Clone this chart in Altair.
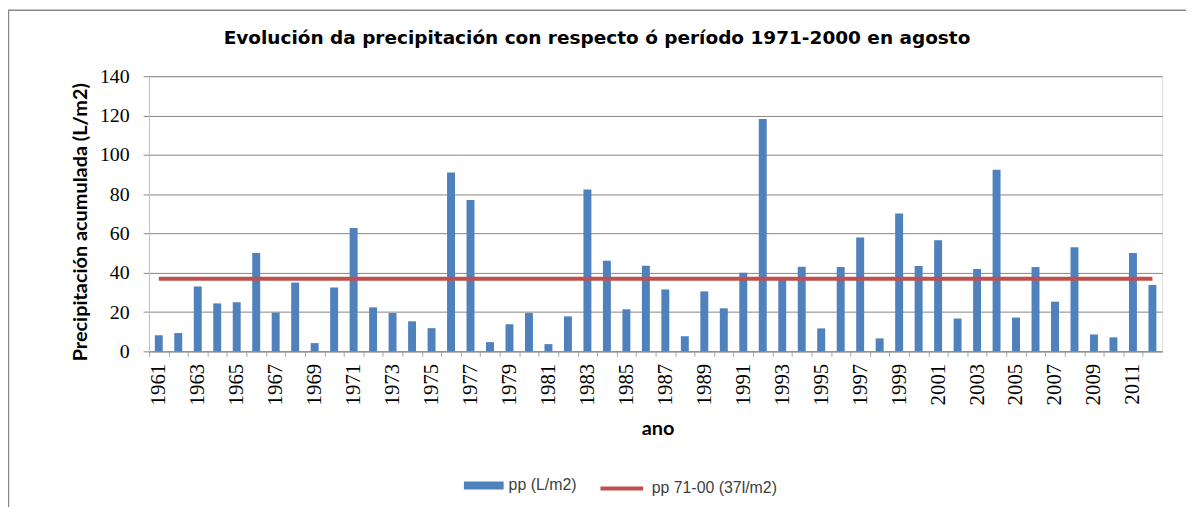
import altair as alt
import pandas as pd

years = [str(y) for y in range(1961, 2013)]
pp = [8.2, 9.3, 33.0, 24.4, 25.0, 50.0, 19.7, 35.0, 4.2, 32.5,
      62.8, 22.4, 19.5, 15.3, 11.8, 91.0, 77.0, 4.7, 13.8, 19.5,
      3.7, 17.8, 82.4, 46.1, 21.4, 43.6, 31.5, 7.7, 30.5, 21.9,
      40.0, 118.3, 36.5, 43.1, 11.7, 42.9, 58.0, 6.6, 70.2, 43.4,
      56.6, 16.7, 41.9, 92.4, 17.2, 42.9, 25.3, 53.0, 8.6, 7.1,
      50.0, 33.8]
y_ticks = [0, 20, 40, 60, 80, 100, 120, 140]
ref_value = 37
series_names = ["pp (L/m2)", "pp 71-00 (37l/m2)"]
title_text = "Evolución da precipitación con respecto ó período 1971-2000  en agosto"
y_title = "Precipitación acumulada (L/m2)"
x_title = "ano"

bars_df = pd.DataFrame({"ano": years, "pp": pp, "serie": series_names[0]})
line_df = pd.DataFrame({"ano": years, "pp": [ref_value] * len(years), "serie": series_names[1]})

W, H = 1020, 277
n = len(years)
step = W / n

xscale = alt.Scale(paddingInner=0.59, paddingOuter=0.295)
yscale = alt.Scale(domain=[0, 140], nice=False)

x_axis = alt.Axis(
    labelAngle=-90, labelExpr="toNumber(datum.value) % 2 == 1 ? datum.label : ''",
    tickOffset=-step / 2, labelOffset=step / 2,
    titleX=W / 2 + 2, titleY=78, titleBaseline="middle",
)
y_axis = alt.Axis(
    values=y_ticks,
    titleX=-69, titleY=H / 2 + 8, titleAngle=-90, titleBaseline="middle",
    titleAlign="center",
)

bars = alt.Chart(bars_df).mark_bar(size=8).encode(
    x=alt.X("ano:O", scale=xscale, sort=years, title=x_title, axis=x_axis),
    y=alt.Y("pp:Q", scale=yscale, title=y_title, axis=y_axis),
    fill=alt.Fill(
        "serie:N",
        scale=alt.Scale(domain=[series_names[0]], range=["#4F81BD"]),
        legend=alt.Legend(
            title=None, orient="none", legendX=317, legendY=392,
            symbolType="M-1,-0.2L1,-0.2L1,0.2L-1,0.2Z", symbolSize=1600,
            symbolStrokeWidth=0, labelFont="Liberation Sans", labelFontSize=16,
            labelColor="#404040", labelOffset=5,
        ),
    ),
)

line = alt.Chart(line_df).mark_line(strokeWidth=4).encode(
    x=alt.X("ano:O", sort=years, scale=xscale, title=x_title, axis=x_axis),
    y=alt.Y("pp:Q", scale=yscale, title=y_title, axis=y_axis),
    stroke=alt.Stroke(
        "serie:N",
        scale=alt.Scale(domain=[series_names[1]], range=["#C0504D"]),
        legend=alt.Legend(
            title=None, orient="none", legendX=452, legendY=391,
            symbolType="stroke", symbolSize=1850, symbolStrokeWidth=4,
            labelFont="Liberation Sans", labelFontSize=16, labelColor="#404040",
            labelOffset=6,
        ),
    ),
)

border = alt.Chart(alt.Data(values=[{}])).mark_rect(
    filled=False, stroke="#888888", strokeWidth=1.5
).encode(
    x=alt.value(-141.5), x2=alt.value(1100), y=alt.value(-66.5), y2=alt.value(600)
)

chart = alt.layer(border, bars, line).resolve_scale(
    fill="independent", stroke="independent"
).properties(
    width=W,
    height=H,
    padding={"left": 142, "top": 67, "right": 24, "bottom": 155},
    autosize=alt.AutoSizeParams(type="none"),
    title=alt.TitleParams(
        text=title_text, font="DejaVu Sans", fontSize=18.6, fontWeight="bold", color="#000000",
        anchor="middle", frame="group", dx=-59, dy=64, offset=26,
    ),
).configure_view(
    stroke=None
).configure(
    background="white"
).configure_axis(
    labelFont="Liberation Serif", labelColor="#000000", labelOverlap=False,
    titleFont="Lato", titleFontSize=20, titleFontWeight="bold", titleColor="#000000",
).configure_axisX(
    labelFontSize=21, tickSize=5, tickColor="#A6A6A6", labelPadding=7,
    domainColor="#868686", grid=False,
).configure_axisY(
    labelFontSize=20, tickSize=6, tickColor="#868686", labelPadding=14,
    domainColor="#BFBFBF", gridColor="#868686", gridWidth=1, grid=True,
)

chart.save("out.html", embed_options={"renderer": "svg", "actions": False})
